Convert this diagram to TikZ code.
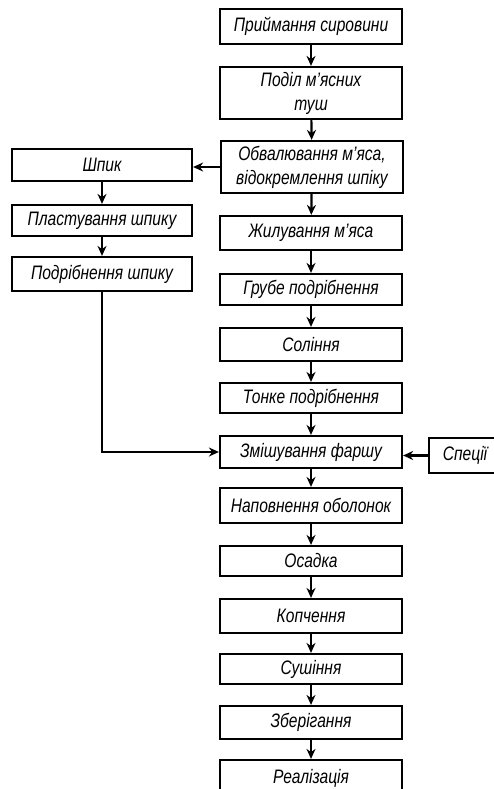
\documentclass[tikz,border=0pt]{standalone}
\usepackage{fontspec}
\setmainfont{Liberation Sans}[FakeStretch=0.8]
\usetikzlibrary{arrows.meta,positioning}

\begin{document}
\begin{tikzpicture}[
  x=1pt, y=-1pt,
  stage/.style={
    rectangle, draw=black, line width=2.2pt, fill=white,
    minimum width=182pt, inner sep=0pt, align=center,
    font=\fontsize{19.5}{24}\selectfont\itshape
  },
  arrow/.style={-{Stealth[length=10pt,width=9pt]}, line width=2.2pt}
]
\useasboundingbox (0,0) rectangle (493,789);

% Main column
\node[stage, minimum height=35pt] (s1) at (311,26.5) {Приймання сировини};
\node[stage, minimum height=52pt] (s2) at (311,93) {Поділ м’ясних\\туш};
\node[stage, minimum height=52pt] (s3) at (312,167) {Обвалювання м’яса,\\відокремлення шпіку};
\node[stage, minimum height=34pt] (s4) at (311,233) {Жилування м’яса};
\node[stage, minimum height=31pt] (s5) at (311,289.5) {Грубе подрібнення};
\node[stage, minimum height=33pt] (s6) at (311,344.5) {Соління};
\node[stage, minimum height=30pt] (s7) at (311,398) {Тонке подрібнення};
\node[stage, minimum height=32pt] (s8) at (311,452) {Змішування фаршу};
\node[stage, minimum height=35pt] (s9) at (311,505.5) {Наповнення оболонок};
\node[stage, minimum height=30pt] (s10) at (311,561) {Осадка};
\node[stage, minimum height=34pt] (s11) at (311,616) {Копчення};
\node[stage, minimum height=30pt] (s12) at (311,669) {Сушіння};
\node[stage, minimum height=33pt] (s13) at (311,722.5) {Зберігання};
\node[stage, minimum height=36pt] (s14) at (311,778) {Реалізація};

% Side branch
\node[stage, minimum width=180pt, minimum height=32pt] (fat1) at (102,165) {Шпик};
\node[stage, minimum width=180pt, minimum height=31pt] (fat2) at (102,220.5) {Пластування шпику};
\node[stage, minimum width=180pt, minimum height=34pt] (fat3) at (102,274) {Подрібнення шпику};
\node[stage, minimum width=72pt, minimum height=35pt] (spice) at (465,455.5) {Спеції};

% Connectors
\foreach \a/\b in {s1/s2,s2/s3,s3/s4,s4/s5,s5/s6,s6/s7,s7/s8,s8/s9,s9/s10,s10/s11,s11/s12,s12/s13,s13/s14}
  \draw[arrow] (\a) -- (\b);
\draw[arrow] (s3.west) -- (s3.west -| fat1.east);
\draw[arrow] (fat1) -- (fat2);
\draw[arrow] (fat2) -- (fat3);
\draw[arrow] (fat3.south) |- (s8.west);
\draw[arrow] (spice.west) -- (spice.west -| s8.east);

\end{tikzpicture}
\end{document}
